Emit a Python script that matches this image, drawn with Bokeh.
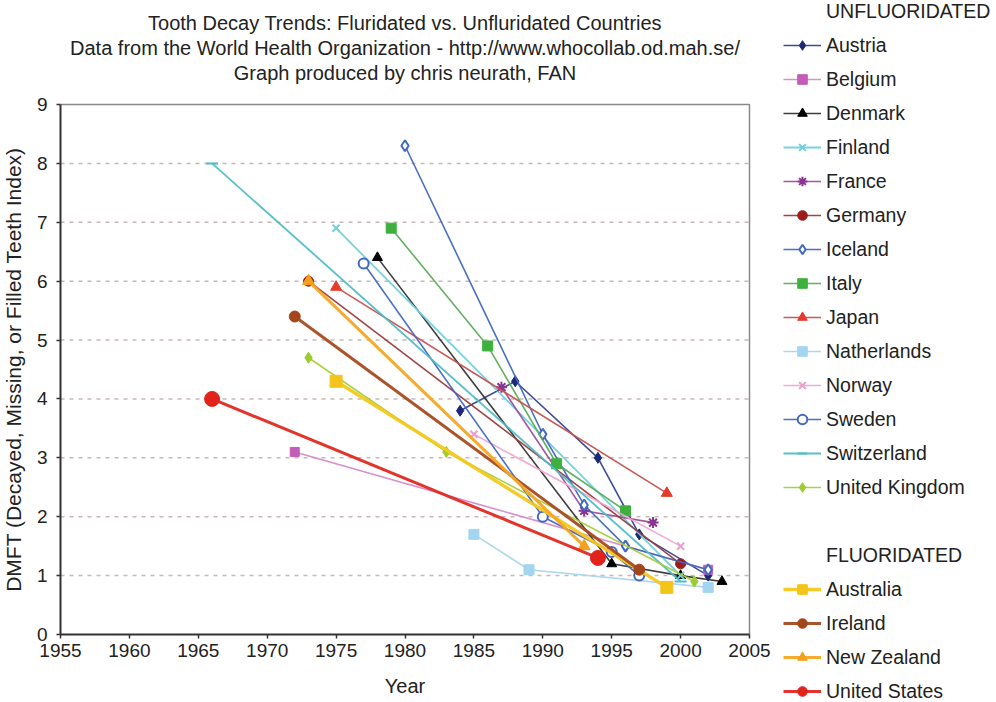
from bokeh.plotting import figure
from bokeh.models import Range1d, FixedTicker, Legend, LegendItem, Label
from bokeh.embed import file_html
from bokeh.resources import INLINE

FONT = "Liberation Sans"

# ---------------- data (DMFT by survey year) ----------------
austria_year = [1984, 1988, 1994, 1997, 2002]
austria_dmft = [3.8, 4.3, 3.0, 1.7, 1.0]
belgium_year = [1972, 2002]
belgium_dmft = [3.1, 1.1]
denmark_year = [1978, 1995, 2000, 2003]
denmark_dmft = [6.4, 1.2, 1.0, 0.9]
finland_year = [1975, 2000]
finland_dmft = [6.9, 1.0]
france_year = [1987, 1993, 1998]
france_dmft = [4.2, 2.1, 1.9]
germany_year = [1973, 2000]
germany_dmft = [6.0, 1.2]
iceland_year = [1980, 1990, 1993, 1996, 2002]
iceland_dmft = [8.3, 3.4, 2.2, 1.5, 1.1]
italy_year = [1979, 1986, 1991, 1996]
italy_dmft = [6.9, 4.9, 2.9, 2.1]
japan_year = [1975, 1999]
japan_dmft = [5.9, 2.4]
netherlands_year = [1985, 1989, 2002]
netherlands_dmft = [1.7, 1.1, 0.8]
norway_year = [1985, 2000]
norway_dmft = [3.4, 1.5]
sweden_year = [1977, 1990, 1995, 1997]
sweden_dmft = [6.3, 2.0, 1.4, 1.0]
switzerland_year = [1966, 2000]
switzerland_dmft = [8.0, 0.9]
uk_year = [1973, 1983, 2001]
uk_dmft = [4.7, 3.1, 0.9]

australia_year = [1975, 1999]
australia_dmft = [4.3, 0.8]
ireland_year = [1972, 1997]
ireland_dmft = [5.4, 1.1]
nz_year = [1973, 1993]
nz_dmft = [6.0, 1.5]
us_year = [1966, 1994]
us_dmft = [4.0, 1.3]

x_ticks = [1955, 1960, 1965, 1970, 1975, 1980, 1985, 1990, 1995, 2000, 2005]
y_ticks = [0, 1, 2, 3, 4, 5, 6, 7, 8, 9]

title_lines = ["Tooth Decay Trends: Fluridated vs. Unfluridated Countries",
               "Data from the World Health Organization - http://www.whocollab.od.mah.se/",
               "Graph produced by chris neurath, FAN"]
headers = ["UNFLUORIDATED", "FLUORIDATED"]

# name, years, values, line colour, marker, marker colour, marker fill, line width, marker size
unfluoridated = [
    ("Austria", austria_year, austria_dmft, "#34428f", "diamond", "#1c2778", "#1c2778", 1.6, 11),
    ("Belgium", belgium_year, belgium_dmft, "#d58ac8", "square", "#c35db6", "#c35db6", 1.6, 9),
    ("Denmark", denmark_year, denmark_dmft, "#333333", "triangle", "#000000", "#000000", 1.6, 10),
    ("Finland", finland_year, finland_dmft, "#6fd0dc", "x", "#6fd0dc", "#6fd0dc", 1.8, 10),
    ("France", france_year, france_dmft, "#9b4d9e", "asterisk", "#8a3391", "#8a3391", 1.6, 11),
    ("Germany", germany_year, germany_dmft, "#9c3a3a", "circle", "#9a1c1c", "#9a1c1c", 1.6, 10),
    ("Iceland", iceland_year, iceland_dmft, "#4067c2", "diamond", "#4067c2", "white", 1.6, 11),
    ("Italy", italy_year, italy_dmft, "#5aac5a", "square", "#3eb03e", "#3eb03e", 1.6, 10),
    ("Japan", japan_year, japan_dmft, "#c4524e", "triangle", "#e53a2c", "#e53a2c", 1.6, 11),
    ("Natherlands", netherlands_year, netherlands_dmft, "#a6d6ee", "square", "#a3d4f0", "#a3d4f0", 1.6, 10),
    ("Norway", norway_year, norway_dmft, "#f0a6d2", "x", "#ee9ccd", "#ee9ccd", 1.6, 10),
    ("Sweden", sweden_year, sweden_dmft, "#4268c4", "circle", "#4268c4", "white", 1.6, 10),
    ("Switzerland", switzerland_year, switzerland_dmft, "#4ebcc6", "dash", "#4ebcc6", "#4ebcc6", 1.8, 12),
    ("United Kingdom", uk_year, uk_dmft, "#a4cf3a", "diamond", "#9dcc2e", "#9dcc2e", 1.6, 11),
]
fluoridated = [
    ("Australia", australia_year, australia_dmft, "#f3c81c", "square", "#f3c41a", "#f3c41a", 3.4, 12),
    ("Ireland", ireland_year, ireland_dmft, "#a64a1f", "circle", "#a4461c", "#a4461c", 3.0, 11),
    ("New Zealand", nz_year, nz_dmft, "#f4a723", "triangle", "#f4a01e", "#f4a01e", 3.0, 12),
    ("United States", us_year, us_dmft, "#e2281f", "circle", "#e2231c", "#e2231c", 3.0, 15),
]

# ---------------- layout (pixels) ----------------
CANVAS_W, CANVAS_H = 996, 702
BOX_L, BOX_R, BOX_T, BOX_B = 60, 749, 104, 634      # the chart box inside the canvas

px_per_x = (BOX_R - BOX_L) / (x_ticks[-1] - x_ticks[0])
px_per_y = (BOX_B - BOX_T) / (y_ticks[-1] - y_ticks[0])
x_start = x_ticks[0] - BOX_L / px_per_x
x_end = x_ticks[-1] + (CANVAS_W - BOX_R) / px_per_x
y_start = y_ticks[0] - (CANVAS_H - BOX_B) / px_per_y
y_end = y_ticks[-1] + BOX_T / px_per_y

def y_at_px(py):
    return y_ticks[-1] + (BOX_T - py) / px_per_y

p = figure(width=CANVAS_W, height=CANVAS_H,
           x_range=Range1d(x_start, x_end), y_range=Range1d(y_start, y_end),
           output_backend="svg", toolbar_location=None, min_border=0,
           background_fill_color="white", border_fill_color="white")
p.outline_line_color = None
p.xgrid.visible = False
p.ygrid.visible = False

# axes pinned to the chart box
p.xaxis.fixed_location = y_ticks[0]
p.xaxis.bounds = (x_ticks[0], x_ticks[-1])
p.yaxis.fixed_location = x_ticks[0]
p.yaxis.bounds = (y_ticks[0], y_ticks[-1])
p.xaxis.ticker = FixedTicker(ticks=x_ticks)
p.yaxis.ticker = FixedTicker(ticks=y_ticks)
for ax in (p.xaxis[0], p.yaxis[0]):
    ax.axis_line_color = "#333333"
    ax.axis_line_width = 2
    ax.major_tick_line_color = "#333333"
    ax.major_tick_line_width = 1.5
    ax.major_tick_in = 0
    ax.major_tick_out = 4
    ax.minor_tick_line_color = None
    ax.major_label_text_font = FONT
    ax.major_label_text_font_size = "19px"
    ax.major_label_text_color = "#222222"
    ax.axis_label_text_font = FONT
    ax.axis_label_text_font_size = "20px"
    ax.axis_label_text_font_style = "normal"
    ax.axis_label_text_color = "#222222"
p.xaxis.axis_label = "Year"
p.yaxis.axis_label = "DMFT (Decayed, Missing, or Filled Teeth Index)"
p.yaxis.axis_label_text_font_size = "21px"
p.xaxis.major_label_standoff = 5
p.xaxis.axis_label_standoff = 15
p.yaxis.major_label_standoff = 9
p.yaxis.axis_label_standoff = 9

# dashed horizontal grid and grey box border
grid_vals = y_ticks[1:-1]
p.segment(x0=[x_ticks[0]] * len(grid_vals), x1=[x_ticks[-1]] * len(grid_vals),
          y0=grid_vals, y1=grid_vals, line_color="#c9b8b8", line_dash="4 5", line_width=1.5)
p.line([x_ticks[0], x_ticks[-1], x_ticks[-1]], [y_ticks[-1], y_ticks[-1], y_ticks[0]],
       line_color="#8a8a8a", line_width=1.5)

# title lines
title_centres_px = [22, 47, 72]
for txt, py in zip(title_lines, title_centres_px):
    p.add_layout(Label(x=(x_ticks[0] + x_ticks[-1]) / 2, y=y_at_px(py), text=txt,
                       text_align="center", text_baseline="middle",
                       text_font=FONT, text_font_size="20px", text_color="#222222"))

def add_series(group):
    items = []
    for name, xs, ys, lc, mk, mc, mf, lw, ms in group:
        lr = p.line(xs, ys, line_color=lc, line_width=lw, line_alpha=0.95)
        sr = p.scatter(xs, ys, marker=mk, size=ms, line_color=mc, fill_color=mf,
                       line_width=2 if mk in ("x", "asterisk", "dash") or mf == "white" else 1)
        items.append(LegendItem(label=name, renderers=[lr, sr]))
    return items

items_u = add_series(unfluoridated)
items_f = add_series(fluoridated)

# text-only rows of the legend (group headers and a gap)
blank = p.line([], [], line_alpha=0)
legend_items = ([LegendItem(label=headers[0], renderers=[blank])] + items_u +
                [LegendItem(label=" ", renderers=[blank]),
                 LegendItem(label=headers[1], renderers=[blank])] + items_f)

legend = Legend(items=legend_items, location=(783, -1), orientation="vertical", ncols=1,
                glyph_width=38, glyph_height=24, label_height=24, spacing=10,
                label_standoff=5, padding=0, margin=0,
                border_line_color=None, background_fill_alpha=0,
                label_text_font=FONT, label_text_font_size="19.5px",
                label_text_color="#222222", label_text_baseline="middle")
p.add_layout(legend)

open("out.html", "w").write(file_html(p, INLINE))
